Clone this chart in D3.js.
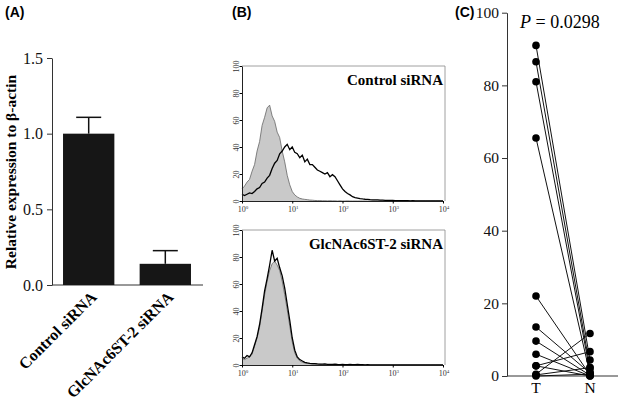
<!DOCTYPE html>
<html><head><meta charset="utf-8">
<script src="https://cdn.jsdelivr.net/npm/d3@7"></script>
<style>
body{margin:0;background:#fff}
svg{display:block}
</style></head>
<body>
<svg id="c" width="618" height="400"></svg>
<script>
// ---- Panel A data ----
const barCategories = ["Control siRNA", "GlcNAc6ST-2 siRNA"];
const barValues = [1.0, 0.14];
const barErrors = [0.108, 0.087];
const barTicks = [0.0, 0.5, 1.0, 1.5];

// ---- Panel B data (histograms, counts at log10 fluorescence bins 0..4 step 0.05) ----
const histTicksY = [0, 20, 40, 60, 80, 100];
const histTicksX = [0, 1, 2, 3, 4];
const ctrlIsotype = [9,11,14,16,22,27,37,44,56,62,69,71,63,59,51,47,37,29,19,12,7,4.5,3,2,1.5,1.2,1,0.7,0.6,0.4,0.3,0.3,0.2,0.2,0.1,0.2,0.1,0.1,0,0.1,0,0,0.1,0,0,0,0,0,0,0,0,0,0,0,0,0,0,0,0,0,0,0,0,0,0,0,0,0,0,0,0,0,0,0,0,0,0,0,0,0,0];
const ctrlStain = [5,4,5,6,5.5,7,9,10,13,14,17,19,24,28,30,35,37,40,42,38,40,36,35,32,34,29,31,27,27,25,23,22,21,20,21,18,19.5,18,15,12,9,7,5.5,4.5,3.2,2.5,2.2,1.8,1.5,1.3,1.2,1,0.9,0.8,0.9,0.6,0.7,0.5,0.5,0.4,0.4,0.3,0.3,0.2,0.3,0.2,0.2,0.1,0.2,0.1,0.1,0.1,0,0.1,0,0,0,0,0,0,0];
const kdIsotype = [5,4,5,6,8,14,20,28,40,52,62,70,75,77,74,70,62,52,41,29,17,9,5,3,2,1.5,1.2,1,0.8,0.7,0.6,0.5,0.4,0.4,0.3,0.3,0.3,0.2,0.2,0.2,0.1,0.2,0.1,0.1,0.1,0.1,0,0.1,0,0,0,0,0,0,0,0,0,0,0,0,0,0,0,0,0,0,0,0,0,0,0,0,0,0,0,0,0,0,0,0,0];
const kdStain = [6,5,7,6,9,15,21,30,42,55,64,74,85,77,79,72,66,57,45,33,20,11,6,4,3,2,1.5,1.2,1,1,0.8,0.7,0.6,0.8,0.5,0.5,0.4,0.6,0.4,0.3,0.4,0.3,0.3,0.5,0.2,0.3,0.4,0.2,0.2,0.1,0.2,0.1,0.1,0.1,0,0.1,0,0,0,0,0,0,0,0,0,0,0,0,0,0,0,0,0,0,0,0,0,0,0,0,0];
const histTitles = ["Control siRNA", "GlcNAc6ST-2 siRNA"];

// ---- Panel C data (paired tumour / normal) ----
const pairT = [91, 86.5, 81, 65.5, 22, 13.5, 9.6, 6, 2.8, 0.5, 0.3, 0, 2.8];
const pairN = [4.4, 2.3, 1.2, 0.5, 0.3, 0.8, 0.2, 0, 6.7, 11.7, 2.3, 0.5, 0];
const pairCats = ["T", "N"];
const pairTicks = [0, 20, 40, 60, 80, 100];
const pText = "0.0298";

const SERIF = '"Liberation Serif", "Times New Roman", serif';
const SANS = '"Liberation Sans", Arial, sans-serif';
const svg = d3.select("#c");

// ================= Panel A =================
{
  const y = d3.scaleLinear().domain([0, 1.5]).range([285, 58]);
  const x = d3.scaleBand().domain(barCategories).range([50, 204]).paddingInner(0.33).paddingOuter(0.17);
  const g = svg.append("g");
  g.append("text").style("font-family",SANS).attr("x",5).attr("y",17).attr("font-size",14).attr("font-weight","bold").text("(A)");
  const ya = g.append("g").attr("transform","translate(52,0)")
    .call(d3.axisLeft(y).tickValues(barTicks).tickFormat(d3.format(".1f")).tickSize(5).tickSizeOuter(0));
  ya.attr("font-family", null);
  ya.select(".domain").attr("stroke","#333");
  ya.selectAll(".tick line").attr("stroke","#333");
  ya.selectAll("text").style("font-family",SERIF).style("font-size","16px").attr("fill","#111").attr("dx",-1);
  g.append("line").attr("x1",52).attr("x2",203).attr("y1",285).attr("y2",285).attr("stroke","#333");
  barCategories.forEach((c,i)=>{
    const cx = x(c) + x.bandwidth()/2;
    g.append("line").attr("x1",cx).attr("x2",cx).attr("y1",y(barValues[i])).attr("y2",y(barValues[i]+barErrors[i])).attr("stroke","#111").attr("stroke-width",1.5);
    g.append("line").attr("x1",cx-12.5).attr("x2",cx+12.5).attr("y1",y(barValues[i]+barErrors[i])).attr("y2",y(barValues[i]+barErrors[i])).attr("stroke","#111").attr("stroke-width",1.5);
    g.append("rect").attr("x",x(c)).attr("width",x.bandwidth()).attr("y",y(barValues[i])).attr("height",y(0)-y(barValues[i])).attr("fill","#161616");
    g.append("text").style("font-family",SERIF).attr("font-weight","bold").attr("font-size",16)
      .attr("text-anchor","end").attr("transform",`translate(${cx+9},${298}) rotate(-45)`).text(c);
  });
  g.append("text").style("font-family",SERIF).attr("font-weight","bold").attr("font-size",15.5)
    .attr("text-anchor","middle").attr("transform","translate(16,172) rotate(-90)").text("Relative expression to β-actin");
}

// ================= Panel B =================
svg.append("text").style("font-family",SANS).attr("x",232).attr("y",17).attr("font-size",14).attr("font-weight","bold").text("(B)");
function histPanel(top, bottom, iso, stain, title){
  const L = 242, R = 443;
  const g = svg.append("g");
  const x = d3.scaleLog().domain([1, 1e4]).range([L, R]);
  const y = d3.scaleLinear().domain([0, 100]).range([bottom, top]);
  const bins = d3.range(iso.length).map(i => Math.pow(10, i*0.05));
  g.append("line").attr("x1",L).attr("x2",R+2).attr("y1",top).attr("y2",top).attr("stroke","#888").attr("stroke-width",0.8);
  g.append("line").attr("x1",R+2).attr("x2",R+2).attr("y1",top).attr("y2",bottom).attr("stroke","#888").attr("stroke-width",0.8);
  const area = d3.area().x((d,i)=>x(bins[i])).y0(y(0)).y1(d=>y(d));
  const line = d3.line().x((d,i)=>x(bins[i])).y(d=>y(d));
  g.append("path").attr("d",area(iso)).attr("fill","#c9c9c9");
  g.append("path").attr("d",line(iso)).attr("fill","none").attr("stroke","#666").attr("stroke-width",0.8);
  g.append("path").attr("d",line(stain)).attr("fill","none").attr("stroke","#000").attr("stroke-width",1.3);
  const ya = g.append("g").attr("transform",`translate(${L},0)`)
    .call(d3.axisLeft(y).tickValues(histTicksY).tickSize(2.5).tickSizeOuter(0));
  ya.attr("font-family", null);
  ya.selectAll("text")
    .style("font-family",SERIF).style("font-size","8px").attr("fill","#333")
    .attr("transform","rotate(-90)").attr("text-anchor","middle")
    .attr("x",0).attr("y",-3).attr("dy",0);
  ya.select(".domain").attr("stroke","#222");
  const xa = g.append("g").attr("transform",`translate(0,${bottom})`)
    .call(d3.axisBottom(x).tickValues(histTicksX.map(e=>Math.pow(10,e))).tickSize(2.5).tickSizeOuter(0).tickFormat(""));
  xa.select(".domain").attr("stroke","#222");
  histTicksX.forEach(e=>{
    const t = g.append("text").style("font-family",SERIF).attr("font-size",8).attr("fill","#333")
      .attr("x",x(Math.pow(10,e))+1).attr("y",bottom+11).attr("text-anchor","middle");
    t.append("tspan").text("10");
    t.append("tspan").attr("font-size",5).attr("dy",-3.5).text(String(e));
  });
  g.append("text").style("font-family",SERIF).attr("font-weight","bold").attr("font-size",15)
    .attr("text-anchor","end").attr("x",443).attr("y",top+19).text(title);
}
histPanel(66, 201, ctrlIsotype, ctrlStain, histTitles[0]);
histPanel(230, 365, kdIsotype, kdStain, histTitles[1]);

// ================= Panel C =================
{
  const g = svg.append("g");
  const y = d3.scaleLinear().domain([0, 100]).range([376, 12.7]);
  const x = d3.scalePoint().domain(pairCats).range([536, 590]);
  g.append("text").style("font-family",SANS).attr("x",455).attr("y",17).attr("font-size",14).attr("font-weight","bold").text("(C)");
  const ya = g.append("g").attr("transform","translate(507,0)")
    .call(d3.axisLeft(y).tickValues(pairTicks).tickSize(5).tickSizeOuter(0));
  ya.attr("font-family", null);
  ya.select(".domain").attr("stroke","#333");
  ya.selectAll(".tick line").attr("stroke","#333");
  ya.selectAll("text").style("font-family",SERIF).style("font-size","15.5px").attr("fill","#111");
  g.append("line").attr("x1",507).attr("x2",618).attr("y1",376).attr("y2",376).attr("stroke","#333");
  pairCats.forEach(c=>{
    g.append("text").style("font-family",SERIF).attr("font-size",15.5).attr("text-anchor","middle").attr("x",x(c)).attr("y",393).text(c);
  });
  pairT.forEach((t,i)=>{
    g.append("line").attr("x1",x("T")).attr("y1",y(t)).attr("x2",x("N")).attr("y2",y(pairN[i])).attr("stroke","#111").attr("stroke-width",1);
  });
  pairT.forEach(t=>g.append("circle").attr("cx",x("T")).attr("cy",y(t)).attr("r",3.8).attr("fill","#000"));
  pairN.forEach(n=>g.append("circle").attr("cx",x("N")).attr("cy",y(n)).attr("r",3.8).attr("fill","#000"));
  const pt = g.append("text").style("font-family",SERIF).attr("font-size",18).attr("x",520).attr("y",28);
  pt.append("tspan").attr("font-style","italic").text("P");
  pt.append("tspan").text(" = " + pText);
}
</script>
</body></html>
